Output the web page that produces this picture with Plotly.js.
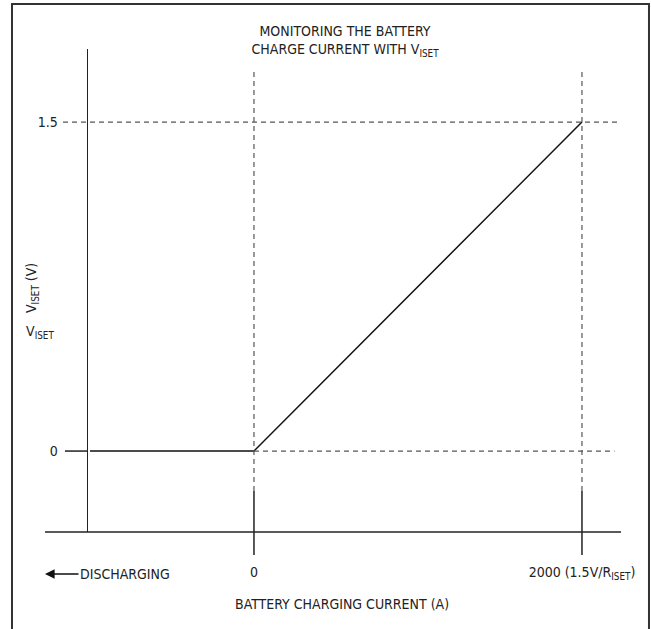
<!DOCTYPE html>
<html>
<head>
<meta charset="utf-8">
<script src="https://cdn.plot.ly/plotly-3.0.1.min.js"></script>
<style>
html,body{margin:0;padding:0;background:#fff;}
#chart{width:651px;height:629px;}
</style>
</head>
<body>
<div id="chart"></div>
<script>
// Data
const current = [-1000, 0, 2000];      // battery charging current (A)
const viset = [0, 0, 1.5];             // VISET (V)
const xTickVals = [0, 2000];
const xTickText = ["0", "2000 (1.5V/R<sub>ISET</sub>)"];
const yTickVals = [0, 1.5];
const yTickText = ["0", "1.5"];
const titleText = "MONITORING THE BATTERY<br>CHARGE CURRENT WITH V<sub>ISET</sub>";
const xTitle = "BATTERY CHARGING CURRENT (A)";
const yTitle = "V<sub>ISET</sub> (V)";
const ySideLabel = "V<sub>ISET</sub>";
const dischargeLabel = "DISCHARGING";

const FONT = "'Liberation Sans Narrow', 'DejaVu Sans Condensed', 'Arial Narrow', sans-serif";
const INK = "#222";
const DASH = "#555";

const xRange = [-1012, 2238];
const yRange = [-0.369, 1.833];

const shapes = [];
// outer frame
shapes.push({type:'rect', xref:'paper', yref:'paper', x0:-0.1426, x1:1.0525, y0:-0.23, y1:1.0932,
  line:{color:'#333', width:2}, fillcolor:'rgba(0,0,0,0)', layer:'above'});
// x axis line (extends left of y axis)
shapes.push({type:'line', xref:'paper', yref:'paper', x0:-0.0807, x1:1.0, y0:0, y1:0,
  line:{color:INK, width:1.5}});
// vertical solid ticks and dashed guides at each x tick
xTickVals.forEach(v => {
  shapes.push({type:'line', xref:'x', yref:'paper', x0:v, x1:v, y0:-0.0476, y1:0.0849,
    line:{color:INK, width:1.5}});
  shapes.push({type:'line', xref:'x', yref:'paper', x0:v, x1:v, y0:0.0849, y1:0.9524,
    line:{color:DASH, width:1.2, dash:'5px,4px'}});
});
// horizontal dashed guide at top value
shapes.push({type:'line', xref:'paper', yref:'y', x0:-0.0469, x1:0.998, y0:yTickVals[1], y1:yTickVals[1],
  line:{color:DASH, width:1.2, dash:'5px,4px'}});
// horizontal dashed guide at zero (right of origin)
shapes.push({type:'line', xref:'x', yref:'y', x0:xTickVals[0], x1:xRange[1]-40, y0:yTickVals[0], y1:yTickVals[0],
  line:{color:DASH, width:1.2, dash:'5px,4px'}});
// solid tick at zero on y axis
shapes.push({type:'line', xref:'paper', yref:'y', x0:-0.0432, x1:0, y0:yTickVals[0], y1:yTickVals[0],
  line:{color:INK, width:1.5}});

const data = [{
  type:'scatter', mode:'lines', x: current, y: viset,
  line:{color:'#111', width:1.5}, hoverinfo:'skip', showlegend:false
}];

const layout = {
  width:651, height:629,
  margin:{l:88, r:30, t:49, b:97},
  paper_bgcolor:'#fff', plot_bgcolor:'#fff',
  font:{family:FONT, size:14, color:INK},
  title:{text:titleText, x:0.53, xref:'container', xanchor:'center',
    y:1-36/629, yref:'container', yanchor:'top', font:{family:FONT, size:14, color:INK}},
  showlegend:false,
  xaxis:{range:xRange, showline:false, showgrid:false, zeroline:false,
    tickvals:xTickVals, ticktext:xTickText, ticks:'', ticklabelstandoff:30,
    tickfont:{family:FONT, size:14, color:INK}, fixedrange:true},
  yaxis:{range:yRange, showline:true, linecolor:INK, linewidth:1.5, showgrid:false, zeroline:false,
    tickvals:yTickVals, ticktext:yTickText, ticks:'', ticklabelstandoff:26,
    tickfont:{family:FONT, size:14, color:INK}, fixedrange:true},
  shapes: shapes,
  annotations:[
    {xref:'paper', yref:'paper', x:(342-88)/533, y:(532-604)/483, xanchor:'center', yanchor:'middle',
      text:xTitle, showarrow:false, font:{family:FONT, size:14, color:INK}},
    {xref:'paper', yref:'paper', x:(32-88)/533, y:(532-288)/483, xanchor:'center', yanchor:'middle',
      text:yTitle, textangle:-90, showarrow:false, font:{family:FONT, size:14, color:INK}},
    {xref:'paper', yref:'paper', x:(40-88)/533, y:(532-332)/483, xanchor:'center', yanchor:'middle',
      text:ySideLabel, showarrow:false, font:{family:FONT, size:14, color:INK}},
    {xref:'paper', yref:'paper', x:(45-88)/533, y:(532-574)/483, text:dischargeLabel,
      showarrow:true, arrowhead:2, arrowsize:1.2, arrowwidth:1.6, arrowcolor:'#111',
      ax:80, ay:0, font:{family:FONT, size:14, color:INK}}
  ]
};

Plotly.newPlot('chart', data, layout, {displayModeBar:false, staticPlot:true});
</script>
</body>
</html>
